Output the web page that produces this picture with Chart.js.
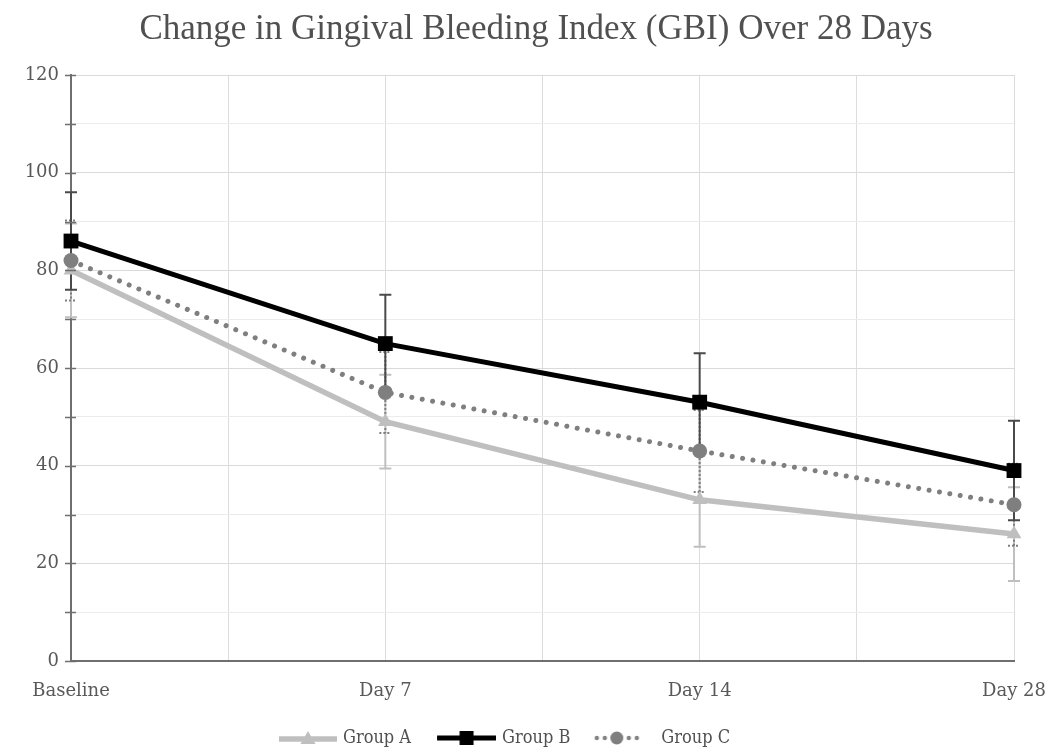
<!DOCTYPE html>
<html>
<head>
<meta charset="utf-8">
<script src="https://cdn.jsdelivr.net/npm/chart.js@4.4.1/dist/chart.umd.min.js"></script>
<style>
  html, body { margin: 0; padding: 0; background: #ffffff; }
  #wrap { width: 1064px; height: 749px; }
  canvas { display: block; }
</style>
</head>
<body>
<div id="wrap"><canvas id="c" width="1064" height="749"></canvas></div>
<script>
// ---- data ----
const categories = ['Baseline', 'Day 7', 'Day 14', 'Day 28'];
const groupA = [80, 49, 33, 26];
const groupB = [86, 65, 53, 39];
const groupC = [82, 55, 43, 32];
const errA = [9.6, 9.6, 9.6, 9.6];
const errB = [10, 10, 10, 10.2];
const errC = [8.2, 8.3, 8.4, 8.4];
const yTicks = [0, 20, 40, 60, 80, 100, 120];
const titleText = 'Change in Gingival Bleeding Index (GBI) Over 28 Days';

const serifTitle = "'Liberation Serif', 'Times New Roman', serif";
const serifTick = "'DejaVu Serif', serif";
const serifLegend = "'DejaVu Serif Condensed', 'Liberation Serif', serif";

function toPoints(arr) { return arr.map((v, i) => ({ x: i, y: v })); }

// legend swatches: line + marker, all the same width; image is 6px wider than the box
const SW = 74, IW = SW + 6;
function swatch(kind) {
  const c = document.createElement('canvas');
  const h = 18, cy = h / 2, w = IW;
  c.width = w; c.height = h;
  const g = c.getContext('2d');
  if (kind === 'A') {
    const x0 = w - 58, cx = x0 + 29;
    g.strokeStyle = '#bfbfbf'; g.lineWidth = 5.5; g.lineCap = 'butt';
    g.beginPath(); g.moveTo(x0, cy + 1); g.lineTo(w, cy + 1); g.stroke();
    g.fillStyle = '#bfbfbf';
    g.beginPath(); g.moveTo(cx, cy - 7); g.lineTo(cx + 7.5, cy + 6); g.lineTo(cx - 7.5, cy + 6); g.closePath(); g.fill();
  } else if (kind === 'B') {
    const x0 = w - 59, cx = x0 + 29.5;
    g.strokeStyle = '#000'; g.lineWidth = 5; g.lineCap = 'butt';
    g.beginPath(); g.moveTo(x0, cy); g.lineTo(w, cy); g.stroke();
    g.fillStyle = '#000'; g.fillRect(cx - 7, cy - 7, 14, 14);
  } else {
    const x0 = w + 6 - 22 - 45, cx = x0 + 22.5;
    g.fillStyle = '#7f7f7f';
    [x0 + 2.5, x0 + 10.5, x0 + 34.5, x0 + 42.5].forEach(x => { g.beginPath(); g.arc(x, cy, 2.2, 0, Math.PI * 2); g.fill(); });
    g.beginPath(); g.arc(cx, cy, 6.5, 0, Math.PI * 2); g.fill();
  }
  return c;
}

// error bars plugin
const errorBars = {
  id: 'errorBars',
  beforeDatasetsDraw(chart) {
    const { ctx, scales: { x, y } } = chart;
    const order = [0, 2, 1];
    order.forEach(di => {
      const ds = chart.data.datasets[di];
      if (!ds.errors) return;
      ctx.save();
      ctx.strokeStyle = ds.errorColor;
      ctx.lineWidth = 2;
      ctx.setLineDash(ds.errorDash || []);
      ds.data.forEach((p, i) => {
        const e = ds.errors[i];
        const px = x.getPixelForValue(p.x);
        const yt = y.getPixelForValue(p.y + e);
        const yb = y.getPixelForValue(p.y - e);
        ctx.beginPath();
        ctx.moveTo(px, yt); ctx.lineTo(px, yb);
        ctx.moveTo(px - 6, yt); ctx.lineTo(px + 6, yt);
        ctx.moveTo(px - 6, yb); ctx.lineTo(px + 6, yb);
        ctx.stroke();
      });
      ctx.restore();
    });
  }
};

// crossing y-axis tick marks
const axisTicks = {
  id: 'axisTicks',
  afterDatasetsDraw(chart) {
    const { ctx, scales: { y }, chartArea } = chart;
    ctx.save();
    ctx.strokeStyle = '#6f6f6f';
    ctx.lineWidth = 1.5;
    y.ticks.forEach(t => {
      const py = Math.round(y.getPixelForValue(t.value)) + 0.5;
      ctx.beginPath();
      ctx.moveTo(chartArea.left - 6, py);
      ctx.lineTo(chartArea.left + 5, py);
      ctx.stroke();
    });
    ctx.restore();
  }
};

// chart title, centred over the full canvas
const chartTitle = {
  id: 'chartTitle',
  afterDraw(chart) {
    const { ctx } = chart;
    ctx.save();
    ctx.fillStyle = '#505050';
    ctx.font = "35px " + serifTitle;
    ctx.textAlign = 'center';
    ctx.textBaseline = 'middle';
    ctx.fillText(titleText, 536, 29.5);
    ctx.restore();
  }
};

// nudge the legend box so its centre sits where the reference legend is
const legendShift = {
  id: 'legendShift',
  afterLayout(chart) {
    const l = chart.legend;
    if (l) { l.left -= 12; l.right -= 12; }
  }
};

const chart = new Chart(document.getElementById('c'), {
  type: 'line',
  data: {
    datasets: [
      {
        label: 'Group A', data: toPoints(groupA), errors: errA,
        errorColor: '#bfbfbf',
        borderColor: '#bfbfbf', backgroundColor: '#bfbfbf', borderWidth: 5.5,
        pointStyle: 'triangle', pointRadius: 8.5, pointBackgroundColor: '#bfbfbf', pointBorderColor: '#bfbfbf', pointBorderWidth: 0,
        legendStyle: swatch('A'), clip: false, order: 3
      },
      {
        label: 'Group B', data: toPoints(groupB), errors: errB,
        errorColor: '#4a4a4a',
        borderColor: '#000000', backgroundColor: '#000000', borderWidth: 5,
        pointStyle: 'rect', pointRadius: 10.5, pointBackgroundColor: '#000', pointBorderColor: '#000', pointBorderWidth: 0,
        legendStyle: swatch('B'), clip: false, order: 1
      },
      {
        label: 'Group C', data: toPoints(groupC), errors: errC,
        errorColor: '#7f7f7f', errorDash: [2, 2],
        borderColor: '#7f7f7f', backgroundColor: '#7f7f7f', borderWidth: 5,
        borderDash: [0.01, 10.5], borderCapStyle: 'round',
        pointStyle: 'circle', pointRadius: 7.5, pointBackgroundColor: '#7f7f7f', pointBorderColor: '#7f7f7f', pointBorderWidth: 0,
        legendStyle: swatch('C'), clip: false, order: 2
      }
    ]
  },
  options: {
    responsive: false,
    animation: false,
    devicePixelRatio: 1,
    layout: { padding: { left: 0, right: 50, top: 75, bottom: -8 } },
    plugins: {
      title: { display: false },
      legend: {
        position: 'bottom',
        labels: {
          color: '#505050',
          font: { family: serifLegend, size: 18 },
          usePointStyle: true,
          pointStyleWidth: SW,
          padding: 8,
          generateLabels(chart) {
            return chart.data.datasets.map((ds, i) => ({
              text: ds.label, pointStyle: ds.legendStyle,
              datasetIndex: i,
              fillStyle: ds.borderColor, strokeStyle: ds.borderColor, lineWidth: 0,
              fontColor: '#505050', hidden: false
            }));
          }
        }
      },
      tooltip: { enabled: false }
    },
    scales: {
      x: {
        type: 'linear', min: 0, max: 3, offset: false,
        afterFit(s) { s.height = 60; s.paddingLeft = 0; s.paddingRight = 0; },
        afterBuildTicks(s) { s.ticks = [0, 0.5, 1, 1.5, 2, 2.5, 3].map(v => ({ value: v })); },
        ticks: {
          autoSkip: false, maxRotation: 0, padding: 20, color: '#595959',
          font: { family: serifTick, size: 18 },
          callback: v => Number.isInteger(v) ? categories[v] : ''
        },
        grid: { color: '#dcdcdc', lineWidth: 1, drawTicks: false },
        border: { color: '#6f6f6f', width: 2 }
      },
      y: {
        min: 0, max: 120,
        afterFit(s) { s.width = 71; },
        afterBuildTicks(s) {
          const t = [];
          for (let v = 0; v <= 120; v += 10) t.push({ value: v });
          s.ticks = t;
        },
        ticks: {
          padding: 12, color: '#595959',
          font: { family: serifTick, size: 18 },
          callback: v => yTicks.includes(v) ? String(v) : ''
        },
        grid: {
          drawTicks: false, lineWidth: 1,
          color: c => (c.tick && c.tick.value % 20 === 0) ? '#dadada' : '#ececec'
        },
        border: { color: '#6f6f6f', width: 2 }
      }
    }
  },
  plugins: [errorBars, axisTicks, chartTitle, legendShift]
});
</script>
</body>
</html>
